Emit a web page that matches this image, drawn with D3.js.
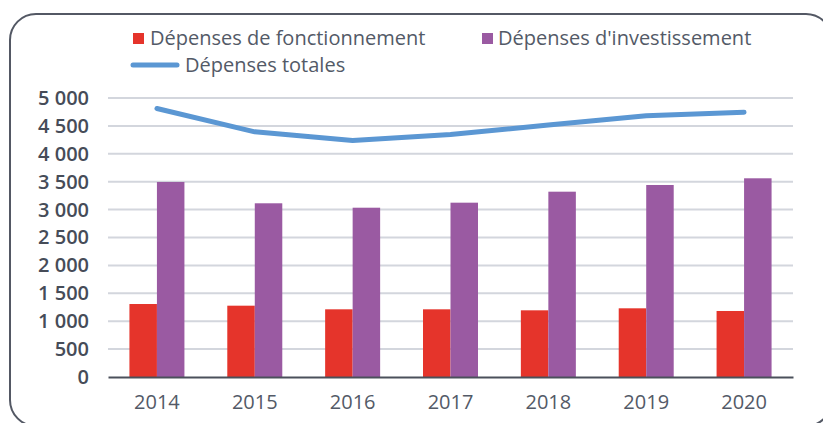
<!DOCTYPE html>
<html>
<head>
<meta charset="utf-8">
<script src="https://cdn.jsdelivr.net/npm/d3@7"></script>
<style>
  body { margin: 0; background: #fff; }
  svg { display: block; font-family: "Open Sans", "Noto Sans", sans-serif; }
</style>
</head>
<body>
<svg width="823" height="423"></svg>
<script>
const years = ["2014", "2015", "2016", "2017", "2018", "2019", "2020"];
const fonctionnement = [1308, 1278, 1213, 1213, 1195, 1231, 1183];
const investissement = [3495, 3113, 3034, 3124, 3321, 3441, 3561];
const totales = [4812, 4394, 4238, 4345, 4516, 4680, 4744];
const yTicks = [0, 500, 1000, 1500, 2000, 2500, 3000, 3500, 4000, 4500, 5000];
const seriesNames = ["Dépenses de fonctionnement", "Dépenses d'investissement", "Dépenses totales"];

const textColor = "#535a67";
const colors = ["#e5342b", "#9a5aa2", "#5b97d3"];
const font = "'Open Sans', 'Noto Sans', sans-serif";

const svg = d3.select("svg");
const fmt = (d) => d3.format(",")(d).replace(/,/g, " ");

// cadre arrondi
svg.append("rect")
	.attr("x", 10).attr("y", 14)
	.attr("width", 822).attr("height", 412)
	.attr("rx", 26)
	.attr("fill", "none")
	.attr("stroke", "#535864")
	.attr("stroke-width", 2);

const x0 = d3.scaleBand().domain(years).range([108, 793]).paddingInner(0.438).paddingOuter(0.219);
const x1 = d3.scaleBand().domain([0, 1]).range([0, x0.bandwidth()]);
const y = d3.scaleLinear().domain([0, 5000]).range([377, 98]);

// grille
svg.append("g")
	.selectAll("line")
	.data(yTicks.filter((d) => d > 0))
	.enter()
	.append("line")
	.attr("x1", 108).attr("x2", 793)
	.attr("y1", (d) => y(d)).attr("y2", (d) => y(d))
	.attr("stroke", "#d3d6dd")
	.attr("stroke-width", 2);

// axe y
const yAxis = svg.append("g")
	.attr("transform", "translate(98,0)")
	.call(d3.axisLeft(y).tickValues(yTicks).tickFormat(fmt).tickSize(0).tickPadding(0))
	.attr("font-family", font)
	.attr("font-size", 20);
yAxis.select(".domain").remove();
yAxis.selectAll("text")
	.attr("fill", "#464c58")
	.attr("x", -9)
	.style("font-weight", 600);

// barres
const groups = svg.selectAll(".grp")
	.data(years)
	.enter()
	.append("g")
	.attr("transform", (d) => `translate(${x0(d)},0)`);

groups.append("rect")
	.attr("x", x1(0))
	.attr("width", x1.bandwidth())
	.attr("y", (d, i) => y(fonctionnement[i]))
	.attr("height", (d, i) => y(0) - y(fonctionnement[i]))
	.attr("fill", colors[0]);

groups.append("rect")
	.attr("x", x1(1))
	.attr("width", x1.bandwidth())
	.attr("y", (d, i) => y(investissement[i]))
	.attr("height", (d, i) => y(0) - y(investissement[i]))
	.attr("fill", colors[1]);

// axe x
const xAxis = svg.append("g")
	.attr("transform", `translate(0,${y(0)})`)
	.call(d3.axisBottom(x0).tickSize(0).tickPadding(18).tickSizeOuter(0))
	.attr("font-family", font)
	.attr("font-size", 20);
xAxis.select(".domain").attr("stroke", "#4b505b").attr("stroke-width", 2);
xAxis.selectAll("text").attr("fill", textColor);

// courbe totale
const line = d3.line()
	.x((d, i) => x0(years[i]) + x0.bandwidth() / 2)
	.y((d) => y(d));

svg.append("path")
	.datum(totales)
	.attr("d", line)
	.attr("fill", "none")
	.attr("stroke", colors[2])
	.attr("stroke-width", 5)
	.attr("stroke-linecap", "round")
	.attr("stroke-linejoin", "round");

// légende
const legend = svg.append("g").style("font-size", "20px").attr("fill", textColor);
legend.append("rect").attr("x", 133).attr("y", 33).attr("width", 11).attr("height", 11).attr("fill", colors[0]);
legend.append("text").attr("x", 150).attr("y", 45).text(seriesNames[0]);
legend.append("rect").attr("x", 482).attr("y", 33).attr("width", 11).attr("height", 11).attr("fill", colors[1]);
legend.append("text").attr("x", 498).attr("y", 45).text(seriesNames[1]);
legend.append("line").attr("x1", 133).attr("x2", 177).attr("y1", 65).attr("y2", 65)
	.attr("stroke", colors[2]).attr("stroke-width", 5).attr("stroke-linecap", "round");
legend.append("text").attr("x", 185).attr("y", 72).text(seriesNames[2]);
</script>
</body>
</html>
